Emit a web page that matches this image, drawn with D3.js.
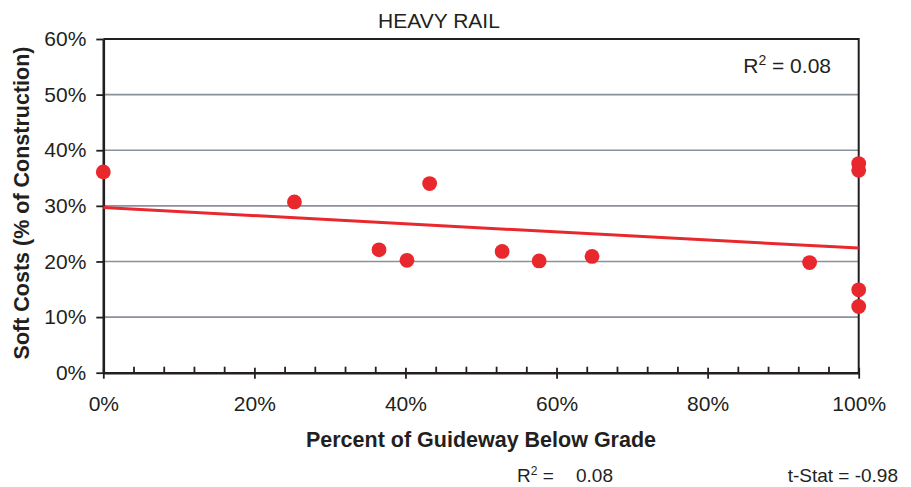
<!DOCTYPE html>
<html>
<head>
<meta charset="utf-8">
<script src="https://cdn.jsdelivr.net/npm/d3@7"></script>
<style>
  body { margin: 0; background: #fff; }
  svg { display: block; font-family: 'Liberation Sans', Arial, sans-serif; }
  text { fill: #231f20; }
</style>
</head>
<body>
<svg id="chart" width="911" height="487"></svg>
<script>
// values
var pctBelowGrade = [0, 0.253, 0.365, 0.402, 0.432, 0.528, 0.577, 0.647, 0.935, 1, 1, 1, 1]
var softCosts = [0.361, 0.307, 0.221, 0.202, 0.340, 0.218, 0.201, 0.209, 0.198, 0.149, 0.119, 0.376, 0.364]
var trendX = [0, 1]
var trendY = [0.297, 0.224]
var yTicks = [0, 0.1, 0.2, 0.3, 0.4, 0.5, 0.6]
var xTicks = [0, 0.2, 0.4, 0.6, 0.8, 1]
var xMinorTicks = [0.04, 0.08, 0.12, 0.16, 0.24, 0.28, 0.32, 0.36, 0.44, 0.48, 0.52, 0.56,
    0.64, 0.68, 0.72, 0.76, 0.84, 0.88, 0.92, 0.96]

var red = '#e8282d'
var ink = '#231f20'

var svg = d3.select('#chart')

var xScale = d3.scaleLinear().domain([0, 1]).range([103.3, 858.7])
var yScale = d3.scaleLinear().domain([0, 0.6]).range([372.7, 39])
var pct = d3.format('.0%')

// gridlines
svg.append('g').selectAll('line')
    .data(yTicks.filter(d => d > 0 && d < 0.6)).enter().append('line')
    .attr('x1', xScale(0)).attr('x2', xScale(1))
    .attr('y1', d => yScale(d)).attr('y2', d => yScale(d))
    .style('stroke', '#8b9198').style('stroke-width', 1.6)

// top and right border
svg.append('path')
    .attr('d', 'M' + xScale(0) + ',' + yScale(0.6) + 'H' + xScale(1) + 'V' + yScale(0))
    .style('fill', 'none').style('stroke', ink).style('stroke-width', 2)

// y axis
var yAxis = d3.axisLeft(yScale).tickValues(yTicks).tickFormat(pct)
    .tickSize(7).tickSizeOuter(0).tickPadding(10)
svg.append('g').attr('transform', 'translate(' + xScale(0) + ',0)').call(yAxis)

// x axis: minor ticks inside, major ticks crossing
var xMinor = d3.axisBottom(xScale).tickValues(xMinorTicks).tickFormat('').tickSize(-6).tickSizeOuter(0)
var xMinorG = svg.append('g').attr('transform', 'translate(0,' + yScale(0) + ')').call(xMinor)
xMinorG.select('.domain').remove()

var xAxis = d3.axisBottom(xScale).tickValues(xTicks).tickFormat(pct)
    .tickSize(6).tickSizeOuter(0).tickPadding(17.4)
var xAxisG = svg.append('g').attr('transform', 'translate(0,' + yScale(0) + ')').call(xAxis)
xAxisG.selectAll('.tick line').attr('y1', -5)

svg.selectAll('.domain').style('stroke', ink).style('stroke-width', 2.6)
svg.selectAll('.tick line').style('stroke', ink).style('stroke-width', 1.8)
svg.selectAll('.tick text').style('font-size', '21px').style('fill', ink)

// trend line
svg.append('line')
    .attr('x1', xScale(trendX[0])).attr('y1', yScale(trendY[0]))
    .attr('x2', xScale(trendX[1])).attr('y2', yScale(trendY[1]))
    .style('stroke', red).style('stroke-width', 3)

// points
svg.append('g').selectAll('circle')
    .data(pctBelowGrade).enter().append('circle')
    .attr('cx', d => xScale(d))
    .attr('cy', (d, i) => yScale(softCosts[i]))
    .attr('r', 7.4)
    .style('fill', red)

// titles
svg.append('text').attr('x', 439).attr('y', 28).attr('text-anchor', 'middle')
    .style('font-size', '21px').text('HEAVY RAIL')

svg.append('text').attr('x', 481).attr('y', 446.5).attr('text-anchor', 'middle')
    .style('font-size', '21.5px').style('font-weight', 'bold').text('Percent of Guideway Below Grade')

svg.append('text').attr('transform', 'translate(29,203) rotate(-90)').attr('text-anchor', 'middle')
    .style('font-size', '21.5px').style('font-weight', 'bold').text('Soft Costs (% of Construction)')

// R² inside the plot
var r2 = svg.append('text').attr('x', 831).attr('y', 73.3).attr('text-anchor', 'end')
    .style('font-size', '21px')
r2.append('tspan').text('R')
r2.append('tspan').attr('dy', -8).style('font-size', '14px').text('2')
r2.append('tspan').attr('dy', 8).text(' = 0.08')

// stats under the chart
var r2b = svg.append('text').attr('x', 517).attr('y', 482).style('font-size', '19px')
r2b.append('tspan').text('R')
r2b.append('tspan').attr('dy', -7).style('font-size', '12px').text('2')
r2b.append('tspan').attr('dy', 7).text(' =')
svg.append('text').attr('x', 576).attr('y', 482).style('font-size', '19px').text('0.08')

svg.append('text').attr('x', 898).attr('y', 482).attr('text-anchor', 'end')
    .style('font-size', '19px').text('t-Stat = -0.98')
</script>
</body>
</html>
